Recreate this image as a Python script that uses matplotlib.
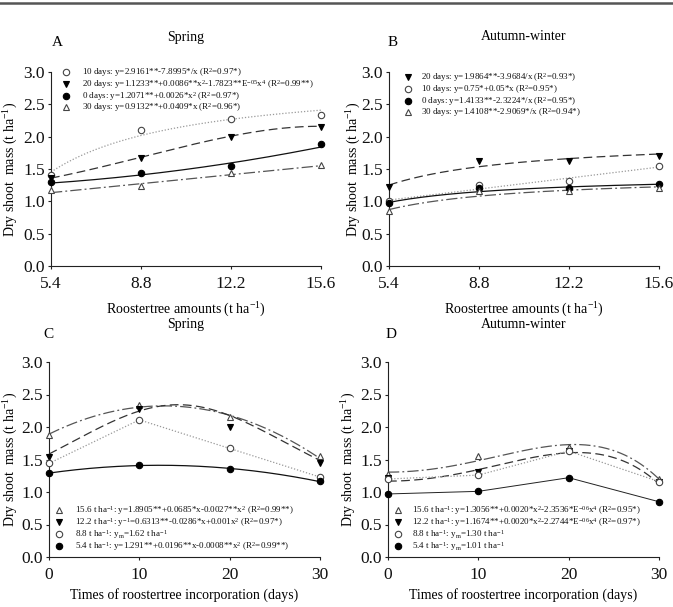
import numpy as np
import matplotlib
matplotlib.use("Agg")
import matplotlib.pyplot as plt
from matplotlib.lines import Line2D

plt.rcParams['font.family'] = ['Liberation Serif', 'DejaVu Serif']
plt.rcParams['mathtext.fontset'] = 'custom'
plt.rcParams['mathtext.rm'] = 'Liberation Serif'
plt.rcParams['mathtext.it'] = 'Liberation Serif:italic'
plt.rcParams['mathtext.bf'] = 'Liberation Serif:bold'
plt.rcParams['mathtext.default'] = 'rm'

# ---------------- data ----------------
rates = [5.4, 8.8, 12.2, 15.6]          # roostertree amounts (t/ha)
times = [0, 10, 20, 30]                  # days of incorporation
rate_labels = ['5.4', '8.8', '12.2', '15.6']

# Spring: dry shoot mass, one list per incorporation time, across amounts
spring_0d = [1.30, 1.44, 1.54, 1.88]
spring_10d = [1.41, 2.11, 2.28, 2.34]
spring_20d = [1.36, 1.67, 2.00, 2.15]
spring_30d = [1.17, 1.23, 1.44, 1.56]

# Autumn-winter
autumn_0d = [0.97, 1.20, 1.21, 1.27]
autumn_10d = [1.01, 1.26, 1.31, 1.55]
autumn_20d = [1.22, 1.63, 1.63, 1.70]
autumn_30d = [0.85, 1.16, 1.16, 1.20]

# regression coefficients shown in the legends
A_fit_10d = [2.9161, -7.8995]             # a + b/x
A_fit_20d = [1.1233, 0.0086, -1.7823e-5]  # a + b x^2 + c x^4
A_fit_0d = [1.2071, 0.0026]               # a + b x^2
A_fit_30d = [0.9132, 0.0409]              # a + b x
B_fit_20d = [1.9864, -3.9684]             # a + b/x
B_fit_10d = [0.75, 0.05]                  # a + b x
B_fit_0d = [1.4133, -2.3224]              # a + b/x
B_fit_30d = [1.4108, -2.9069]             # a + b/x
C_fit_156 = [1.8905, 0.0685, -0.0027]     # a + b x + c x^2
C_fit_122 = [0.6313, -0.0286, 0.001]      # 1/(a + b x + c x^2)
C_fit_54 = [1.291, 0.0196, -0.0008]       # a + b x + c x^2
D_fit_156 = [1.3056, 0.0020, -2.3536e-6]  # a + b x^2 + c x^4
D_fit_122 = [1.1674, 0.0020, -2.2744e-6]  # a + b x^2 + c x^4

A_labels = {
    '10d': '10 days: y=2.9161**-7.8995*/x (R$^{2}$=0.97*)',
    '20d': '20 days: y=1.1233**+0.0086**x$^{2}$-1.7823**E$^{-05}$x$^{4}$ (R$^{2}$=0.99**)',
    '0d': '0 days: y=1.2071**+0.0026*x$^{2}$ (R$^{2}$=0.97*)',
    '30d': '30 days: y=0.9132**+0.0409*x (R$^{2}$=0.96*)',
}
B_labels = {
    '20d': '20 days: y=1.9864**-3.9684/x (R$^{2}$=0.93*)',
    '10d': '10 days: y=0.75*+0.05*x (R$^{2}$=0.95*)',
    '0d': '0 days: y=1.4133**-2.3224*/x (R$^{2}$=0.95*)',
    '30d': '30 days: y=1.4108**-2.9069*/x (R$^{2}$=0.94*)',
}
C_labels = {
    '15.6': '15.6 t ha$^{-1}$: y=1.8905**+0.0685*x-0.0027**x$^{2}$ (R$^{2}$=0.99**)',
    '12.2': '12.2 t ha$^{-1}$: y$^{-1}$=0.6313**-0.0286*x+0.001x$^{2}$ (R$^{2}$=0.97*)',
    '8.8': '8.8 t ha$^{-1}$: y$_{m}$=1.62 t ha$^{-1}$',
    '5.4': '5.4 t ha$^{-1}$: y=1.291**+0.0196**x-0.0008**x$^{2}$ (R$^{2}$=0.99**)',
}
D_labels = {
    '15.6': '15.6 t ha$^{-1}$: y=1.3056**+0.0020*x$^{2}$-2.3536*E$^{-06}$x$^{4}$ (R$^{2}$=0.95*)',
    '12.2': '12.2 t ha$^{-1}$: y=1.1674**+0.0020*x$^{2}$-2.2744*E$^{-06}$x$^{4}$ (R$^{2}$=0.97*)',
    '8.8': '8.8 t ha$^{-1}$: y$_{m}$=1.30 t ha$^{-1}$',
    '5.4': '5.4 t ha$^{-1}$: y$_{m}$=1.01 t ha$^{-1}$',
}

# ---------------- styles ----------------
M_FILLED_CIRCLE = dict(marker='o', mfc='black', mec='black')
M_OPEN_CIRCLE = dict(marker='o', mfc='white', mec='#444444')
M_TRI_DOWN = dict(marker='v', mfc='black', mec='black')
M_TRI_UP = dict(marker='^', mfc='white', mec='#444444')

LS_SOLID = dict(ls='-', color='#111111', lw=0.9)
LS_DOT = dict(ls=(0, (1, 1.5)), color='#999999', lw=0.9)
LS_DASH = dict(ls=(0, (7, 3.5)), color='#333333', lw=0.9)
LS_DASHDOT = dict(ls=(0, (9, 2.5, 1.5, 2.5)), color='#555555', lw=0.9)
MS = 4.6
LEG_FS = 6.5


def inv(c, x):
    return c[0] + c[1] / x


def lin(c, x):
    return c[0] + c[1] * x


def sq(c, x):
    return c[0] + c[1] * x ** 2


def sq4(c, x):
    return c[0] + c[1] * x ** 2 + c[2] * x ** 4


def poly2(c, x):
    return c[0] + c[1] * x + c[2] * x ** 2


def rpoly2(c, x):
    return 1.0 / (c[0] + c[1] * x + c[2] * x ** 2)


W, H = 673, 607
fig = plt.figure(figsize=(W / 100, H / 100), dpi=100)


def add_ax(l, r, t, b):
    return fig.add_axes([l / W, 1 - b / H, (r - l) / W, (b - t) / H])


axA = add_ax(51, 321, 72, 266)
axB = add_ax(389, 659, 72, 266)
axC = add_ax(49, 320, 362, 557)
axD = add_ax(388, 659, 362, 557)


def style_axes(ax, xticks, xticklabels, xlabel, ylab_x, xlab_y):
    ax.set_ylim(0, 3.0)
    ax.set_xlim(xticks[0], xticks[-1])
    ax.set_yticks(np.arange(0, 3.01, 0.5))
    ax.set_yticklabels(['%.1f' % v for v in np.arange(0, 3.01, 0.5)])
    ax.set_xticks(xticks)
    ax.set_xticklabels(xticklabels)
    for s in ['top', 'right']:
        ax.spines[s].set_visible(False)
    for s in ['left', 'bottom']:
        ax.spines[s].set_linewidth(0.8)
        ax.spines[s].set_color('#222222')
    ax.tick_params(axis='both', direction='out', length=2.5, width=0.8,
                   labelsize=12.5, colors='#222222', labelcolor='#111111')
    ax.tick_params(axis='x', pad=5)
    ax.tick_params(axis='y', pad=2)
    ax.set_ylabel('Dry shoot  mass (t ha$^{-1}$)', fontsize=10)
    ax.set_xlabel(xlabel, fontsize=10)
    ax.yaxis.set_label_coords(ylab_x, 0.5)
    ax.xaxis.set_label_coords(0.5, xlab_y)


xs = np.linspace(rates[0], rates[-1], 200)
ts = np.linspace(times[0], times[-1], 200)


def draw_series(ax, x, y, mk, ls, xcurve=None, ycurve=None):
    if xcurve is not None:
        ax.plot(xcurve, ycurve, **ls, clip_on=False, zorder=2)
    else:
        ax.plot(x, y, **ls, clip_on=False, zorder=2)
    ax.plot(x, y, ls='none', ms=MS, mew=0.8, **mk, clip_on=False, zorder=3)


def legend(entries, mx, tx, rows):
    for (mk, lb), y in zip(entries, rows):
        fig.add_artist(Line2D([mx / W], [1 - y / H], transform=fig.transFigure,
                              ls='none', ms=MS, mew=0.8, **mk))
        fig.text(tx / W, 1 - (y + 3) / H, lb, fontsize=LEG_FS, ha='left',
                 va='baseline', color='#111111')


# ---- Panel A ----
style_axes(axA, rates, rate_labels, 'Roostertree amounts (t ha$^{-1}$)', -0.115, -0.18)
draw_series(axA, rates, spring_10d, M_OPEN_CIRCLE, LS_DOT, xs, inv(A_fit_10d, xs))
draw_series(axA, rates, spring_20d, M_TRI_DOWN, LS_DASH, xs, sq4(A_fit_20d, xs))
draw_series(axA, rates, spring_0d, M_FILLED_CIRCLE, LS_SOLID, xs, sq(A_fit_0d, xs))
draw_series(axA, rates, spring_30d, M_TRI_UP, LS_DASHDOT, xs, lin(A_fit_30d, xs))
legend([(M_OPEN_CIRCLE, A_labels['10d']), (M_TRI_DOWN, A_labels['20d']),
        (M_FILLED_CIRCLE, A_labels['0d']), (M_TRI_UP, A_labels['30d'])],
       66, 82, [72, 83.8, 95.6, 107.4])

# ---- Panel B ----
style_axes(axB, rates, rate_labels, 'Roostertree amounts (t ha$^{-1}$)', -0.097, -0.18)
draw_series(axB, rates, autumn_20d, M_TRI_DOWN, LS_DASH, xs, inv(B_fit_20d, xs))
draw_series(axB, rates, autumn_10d, M_OPEN_CIRCLE, LS_DOT, xs, lin(B_fit_10d, xs))
draw_series(axB, rates, autumn_0d, M_FILLED_CIRCLE, LS_SOLID, xs, inv(B_fit_0d, xs))
draw_series(axB, rates, autumn_30d, M_TRI_UP, LS_DASHDOT, xs, inv(B_fit_30d, xs))
legend([(M_TRI_DOWN, B_labels['20d']), (M_OPEN_CIRCLE, B_labels['10d']),
        (M_FILLED_CIRCLE, B_labels['0d']), (M_TRI_UP, B_labels['30d'])],
       408, 421, [77, 88.8, 100.6, 112.4])

# ---- Panel C ----
spring_rows = np.array([spring_0d, spring_10d, spring_20d, spring_30d])
style_axes(axC, times, [str(t) for t in times],
           'Times of roostertree incorporation (days)', -0.107, -0.16)
draw_series(axC, times, spring_rows[:, 3], M_TRI_UP, LS_DASHDOT, ts, poly2(C_fit_156, ts))
draw_series(axC, times, spring_rows[:, 2], M_TRI_DOWN, LS_DASH, ts, rpoly2(C_fit_122, ts))
draw_series(axC, times, spring_rows[:, 1], M_OPEN_CIRCLE, LS_DOT)
draw_series(axC, times, spring_rows[:, 0], M_FILLED_CIRCLE, LS_SOLID, ts, poly2(C_fit_54, ts))
legend([(M_TRI_UP, C_labels['15.6']), (M_TRI_DOWN, C_labels['12.2']),
        (M_OPEN_CIRCLE, C_labels['8.8']), (M_FILLED_CIRCLE, C_labels['5.4'])],
       59, 75, [510, 522, 534, 546])

# ---- Panel D ----
autumn_rows = np.array([autumn_0d, autumn_10d, autumn_20d, autumn_30d])
style_axes(axD, times, [str(t) for t in times],
           'Times of roostertree incorporation (days)', -0.112, -0.16)
draw_series(axD, times, autumn_rows[:, 3], M_TRI_UP, LS_DASHDOT, ts, sq4(D_fit_156, ts))
draw_series(axD, times, autumn_rows[:, 2], M_TRI_DOWN, LS_DASH, ts, sq4(D_fit_122, ts))
draw_series(axD, times, autumn_rows[:, 1], M_OPEN_CIRCLE, LS_DOT)
draw_series(axD, times, autumn_rows[:, 0], M_FILLED_CIRCLE,
            dict(ls='-', color='#222222', lw=0.7))
legend([(M_TRI_UP, D_labels['15.6']), (M_TRI_DOWN, D_labels['12.2']),
        (M_OPEN_CIRCLE, D_labels['8.8']), (M_FILLED_CIRCLE, D_labels['5.4'])],
       398, 412, [510, 522, 534, 546])


# ---- titles and panel letters ----
def ftext(x, y, s, **kw):
    fig.text(x / W, 1 - y / H, s, ha='center', va='center', **kw)


ftext(186, 37, 'Spring', fontsize=10)
ftext(57, 43, 'A', fontsize=11)
ftext(524, 37, 'Autumn-winter', fontsize=10)
ftext(393, 43, 'B', fontsize=11)
ftext(186, 325, 'Spring', fontsize=10)
ftext(48, 335, 'C', fontsize=11)
ftext(524, 325, 'Autumn-winter', fontsize=10)
ftext(391, 335, 'D', fontsize=11)

# top rule
fig.add_artist(Line2D([0, 1], [1 - 2.5 / H, 1 - 2.5 / H], transform=fig.transFigure,
                      color='#555555', lw=1.8))

fig.savefig('out.png', dpi=100, facecolor='white')
